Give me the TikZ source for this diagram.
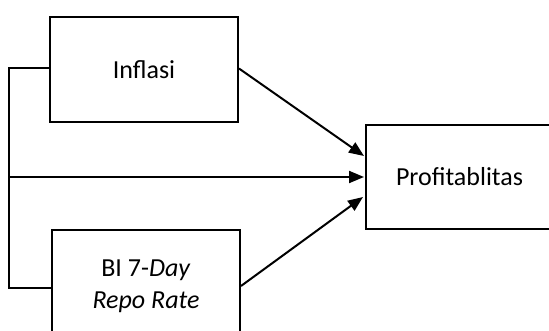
\documentclass[tikz,border=0pt]{standalone}
\usepackage{fontspec}
\setmainfont{Carlito}
\usetikzlibrary{arrows.meta}
\begin{document}
\begin{tikzpicture}[x=1pt,y=-1pt,
  box/.style={draw,line width=2pt,rectangle,minimum width=188pt,inner sep=0pt,font=\fontsize{26}{32}\selectfont,align=center},
  conn/.style={line width=2pt},
  arr/.style={line width=2pt,-{Triangle[length=15pt,width=12pt]}}]
\useasboundingbox (0,0) rectangle (549,331);
\clip (0,0) rectangle (549,331);
\node[box,minimum height=105pt] (inf) at (144,70) {Inflasi};
\node[box,minimum height=116pt] (bi) at (146,288) {};
\node[font=\fontsize{26}{32}\selectfont,align=center] (bitxt) at (146,286) {BI 7-\textit{Day}\\\textit{Repo Rate}};
\node[box,minimum width=187pt,minimum height=104pt] (p) at (459.5,177) {Profitablitas};
\coordinate (bl) at (9,177);
\coordinate (pt) at ([yshift=21pt,xshift=-1pt]p.west);
\coordinate (pm) at ([xshift=-1pt]p.west);
\coordinate (pb) at ([yshift=-20pt,xshift=-2pt]p.west);
\draw[conn] ([yshift=1.5pt]inf.west) -| (bl) |- (bi.west);
\draw[arr] (bl) -- (pm);
\draw[arr] ([yshift=1.5pt]inf.east) -- (pt);
\draw[arr] ([yshift=2pt]bi.east) -- (pb);
\end{tikzpicture}
\end{document}
